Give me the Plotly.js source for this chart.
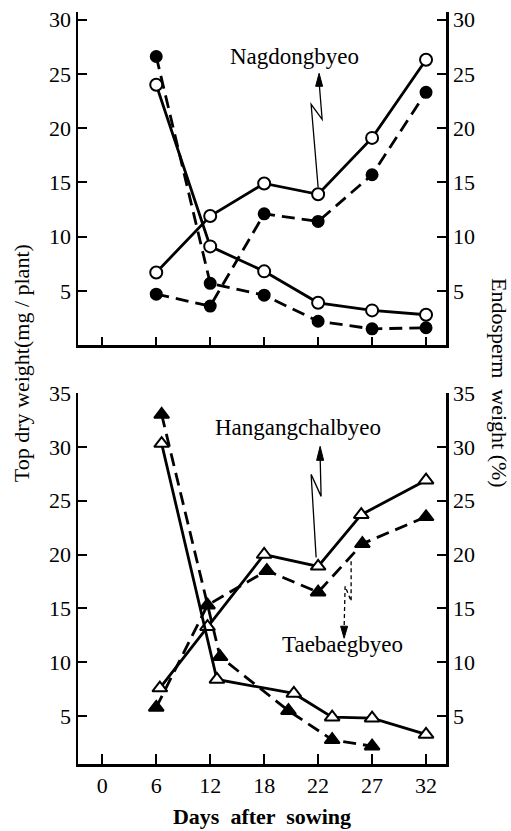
<!DOCTYPE html>
<html>
<head>
<meta charset="utf-8">
<script src="https://cdn.plot.ly/plotly-3.0.1.min.js"></script>
<style>html,body{margin:0;padding:0;background:#fff;}#chart{width:511px;height:831px;}</style>
</head>
<body>
<div id="chart"></div>
<script>
// ---- x axis: days after sowing (ordinal, equally spaced ticks) ----
const tickDays = [0, 6, 12, 18, 22, 27, 32];
const tickLabels = ['0', '6', '12', '18', '22', '27', '32'];

// ---- Top panel: Nagdongbyeo ----
const topDays = [6, 12, 18, 22, 27, 32];
const nagOpenTopDry = [6.7, 11.9, 14.9, 13.9, 19.1, 26.3];     // open circles, solid
const nagOpenEndosperm = [24.0, 9.1, 6.8, 3.9, 3.2, 2.8];      // open circles, solid
const nagFilledTopDry = [4.7, 3.6, 12.1, 11.4, 15.7, 23.3];    // filled circles, dashed
const nagFilledEndosperm = [26.6, 5.7, 4.6, 2.2, 1.5, 1.6];    // filled circles, dashed

// ---- Bottom panel: Hangangchalbyeo (open triangles) / Taebaegbyeo (filled triangles) ----
const hanTopDryDays = [6.4, 11.7, 18, 22, 26, 32];
const hanTopDry = [7.6, 13.3, 20.0, 18.9, 23.7, 26.9];
const hanEndoDays = [6.6, 12.75, 20.2, 23.3, 27, 32];
const hanEndosperm = [30.3, 8.4, 7.1, 4.9, 4.8, 3.3];
const taeTopDryDays = [6, 11.7, 18.2, 22, 26.1, 32];
const taeTopDry = [5.8, 15.3, 18.5, 16.5, 21.0, 23.5];
const taeEndoDays = [6.6, 13.1, 19.8, 23.3, 27];
const taeEndosperm = [33.0, 10.5, 5.5, 2.8, 2.2];

// ordinal day axis: each labelled day occupies one equal slot
function daySlot(d) {
  for (let i = 0; i < tickDays.length - 1; i++) {
    if (d <= tickDays[i + 1]) return i + (d - tickDays[i]) / (tickDays[i + 1] - tickDays[i]);
  }
  return tickDays.length - 1;
}
const slots = arr => arr.map(daySlot);
const tickSlots = tickDays.map(daySlot);

const FONT = 'Liberation Serif, Times New Roman, serif';
const DASH = '13px,7px';

function tr(days, vals, name, xa, ya, open, dashed, sym) {
  return {
    x: slots(days), y: vals, name: name, xaxis: xa, yaxis: ya,
    type: 'scatter', mode: 'lines+markers', showlegend: false,
    line: {color: 'black', width: 2.8, dash: dashed ? DASH : 'solid'},
    marker: {symbol: sym, size: sym === 'circle' ? (open ? 12 : 11) : 13,
             color: open ? 'white' : 'black', line: {color: 'black', width: 2}}
  };
}

const data = [
  tr(topDays, nagOpenTopDry, 'Nagdongbyeo top dry weight (open)', 'x', 'y', true, false, 'circle'),
  tr(topDays, nagFilledTopDry, 'Top dry weight (filled)', 'x', 'y', false, true, 'circle'),
  tr(topDays, nagFilledEndosperm, 'Endosperm weight (filled)', 'x', 'y3', false, true, 'circle'),
  tr(topDays, nagOpenEndosperm, 'Nagdongbyeo endosperm weight (open)', 'x', 'y3', true, false, 'circle'),
  tr(taeTopDryDays, taeTopDry, 'Taebaegbyeo top dry weight', 'x2', 'y2', false, true, 'triangle-up'),
  tr(taeEndoDays, taeEndosperm, 'Taebaegbyeo endosperm weight', 'x2', 'y4', false, true, 'triangle-up'),
  tr(hanEndoDays, hanEndosperm, 'Hangangchalbyeo endosperm weight', 'x2', 'y4', true, false, 'triangle-up'),
  tr(hanTopDryDays, hanTopDry, 'Hangangchalbyeo top dry weight', 'x2', 'y2', true, false, 'triangle-up')
];

const XR = [-0.45, 6.37];
const TOPR = [0, 30.7];
const BOTR = [0.55, 35];
const tickFont = {family: FONT, size: 22, color: 'black'};

function xax(anchor, labels, len) {
  return {
    anchor: anchor, domain: [0, 1], range: XR, tickmode: 'array', tickvals: tickSlots,
    ticktext: tickLabels, showticklabels: labels, ticks: 'inside', ticklen: len, tickwidth: 2,
    tickcolor: 'black', showline: true, linewidth: 2.5, linecolor: 'black',
    showgrid: false, zeroline: false, tickfont: tickFont, fixedrange: true
  };
}
function yax(extra, range, vals) {
  return Object.assign({
    range: range, tickmode: 'array', tickvals: vals, ticks: 'inside', ticklen: 9, tickwidth: 2,
    tickcolor: 'black', showline: true, linewidth: 2.5, linecolor: 'black',
    showgrid: false, zeroline: false, tickfont: tickFont, ticklabelstandoff: 0
  }, extra);
}

const topVals = [5, 10, 15, 20, 25, 30];
const botVals = [5, 10, 15, 20, 25, 30, 35];

const xb = xax('y2', true, 10);
xb.title = {text: 'Days  after  sowing', font: {family: FONT, size: 22, color: 'black', weight: 'bold'}, standoff: 12};

const annFont = {family: FONT, size: 23, color: 'black'};

function arrowShapes(xSlot, yVal, yref, linePath, headPath, dashed) {
  const base = {type: 'path', xref: 'x' + (yref === 'y' ? '' : '2'), yref: yref,
    xsizemode: 'pixel', ysizemode: 'pixel', xanchor: xSlot, yanchor: yVal};
  return [
    Object.assign({}, base, {path: linePath, line: {color: 'black', width: 1.3, dash: dashed ? '4px,3px' : 'solid'}}),
    Object.assign({}, base, {path: headPath, fillcolor: 'black', line: {color: 'black', width: 1}})
  ];
}

const shapes = [].concat(
  arrowShapes(daySlot(22), nagOpenTopDry[3], 'y', 'M0,7 L-7,90 L4,75 L1,112', 'M-2.5,108 L1,121 L4.5,108 Z', false),
  arrowShapes(daySlot(22), hanTopDry[3], 'y2', 'M-2,9 L-7,92 L3,70 L2,110', 'M-1.5,106 L2,120 L5.5,106 Z', false),
  arrowShapes(daySlot(22), taeTopDry[3], 'y2', 'M33,31 L33,-9 L27,6 L26,-36', 'M22.5,-34 L26,-46 L29.5,-34 Z', true)
);

const titleFont = {family: FONT, size: 22, color: 'black'};

const layout = {
  width: 511, height: 831,
  margin: {l: 78, r: 65, t: 12, b: 67},
  paper_bgcolor: 'white', plot_bgcolor: 'white',
  font: {family: FONT, color: 'black'},
  showlegend: false,
  xaxis: xax('y', false, 8),
  yaxis: yax({domain: [0.557, 1], anchor: 'x', side: 'left'}, TOPR, topVals),
  yaxis3: yax({overlaying: 'y', anchor: 'x', side: 'right'}, TOPR, topVals),
  xaxis2: xb,
  yaxis2: yax({domain: [0, 0.4934], anchor: 'x2', side: 'left'}, BOTR, botVals),
  yaxis4: yax({overlaying: 'y2', anchor: 'x2', side: 'right'}, BOTR, botVals),
  shapes: shapes,
  annotations: [
    {text: 'Nagdongbyeo', x: 3.57, y: 26.6, xref: 'x', yref: 'y', showarrow: false, font: annFont},
    {text: 'Hangangchalbyeo', x: 3.62, y: 31.8, xref: 'x2', yref: 'y2', showarrow: false, font: annFont},
    {text: 'Taebaegbyeo', x: 4.45, y: 11.6, xref: 'x2', yref: 'y2', showarrow: false, font: annFont},
    {text: 'Top dry weight(mg / plant)', x: -0.155, y: 0.533, xref: 'paper', yref: 'paper',
     textangle: -90, showarrow: false, xanchor: 'center', yanchor: 'middle', font: titleFont},
    {text: 'Endosperm  weight (%)', x: 1.1467, y: 0.5066, xref: 'paper', yref: 'paper',
     textangle: 90, showarrow: false, xanchor: 'center', yanchor: 'middle', font: titleFont}
  ]
};

Plotly.newPlot('chart', data, layout, {staticPlot: true, displayModeBar: false});
</script>
</body>
</html>
